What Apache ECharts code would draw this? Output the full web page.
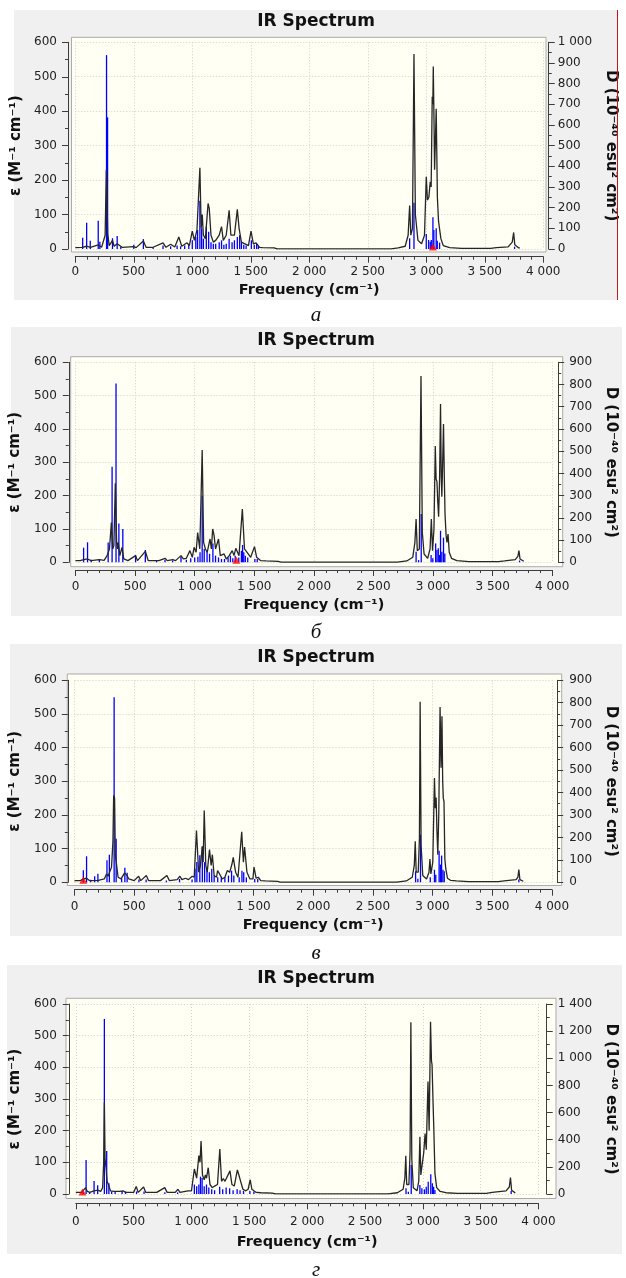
<!DOCTYPE html>
<html>
<head>
<meta charset="utf-8">
<title>IR Spectrum</title>
<script src="https://cdn.jsdelivr.net/npm/echarts/dist/echarts.min.js"></script>
<style>
html, body { margin: 0; padding: 0; background: #fff; }
#chart { width: 626px; height: 1278px; }
</style>
</head>
<body>
<div id="chart"></div>
<script>
// подписи под панелями
var captions = ['а', 'б', 'в', 'г'];
var rightMax = [1000, 900, 900, 1400];
var rightStep = [100, 100, 100, 200];
// выбранная полоса (красный треугольник)
var markers = [3057, 1350, 74, 58];

// огибающая спектра: [частота, ε]
var specA = [[0,4],[60,5],[97,8],[130,5],[196,12],[225,5],[255,40],[265,230],[270,170],[277,45],[290,10],[318,25],[332,8],[358,15],[400,5],[500,7],[520,4],[582,23],[605,5],[665,5],[750,18],[775,5],[815,14],[850,6],[885,35],[910,8],[955,18],[975,10],[1000,52],[1018,25],[1040,55],[1055,60],[1065,236],[1076,60],[1085,100],[1095,40],[1112,30],[1135,132],[1145,118],[1160,40],[1180,20],[1200,25],[1230,40],[1250,65],[1265,25],[1290,40],[1315,112],[1330,40],[1360,40],[1385,115],[1400,60],[1420,20],[1450,15],[1480,10],[1502,52],[1522,15],[1545,18],[1560,18],[1575,5],[1600,4],[1700,3],[1725,0.5],[2700,0.5],[2760,3],[2820,8],[2845,40],[2858,126],[2868,40],[2882,60],[2895,566],[2907,100],[2929,25],[2960,15],[2985,40],[3000,210],[3010,142],[3022,150],[3034,195],[3042,180],[3051,442],[3056,420],[3060,530],[3066,380],[3071,230],[3077,300],[3085,407],[3095,150],[3105,80],[3114,85],[3125,30],[3145,10],[3200,4],[3300,2],[3550,2],[3600,4],[3700,6],[3735,20],[3747,48],[3757,12],[3790,3],[3800,3]];
var specB = [[0,5],[40,5],[68,8],[101,10],[130,5],[200,8],[240,6],[265,20],[285,40],[301,119],[312,40],[322,50],[334,237],[345,60],[352,40],[358,60],[372,20],[390,45],[405,10],[440,5],[504,20],[520,5],[586,33],[610,5],[700,5],[751,12],[770,5],[815,8],[840,5],[885,20],[905,10],[930,12],[945,8],[960,35],[980,15],[995,45],[1012,30],[1025,89],[1043,40],[1063,337],[1075,60],[1090,40],[1105,30],[1129,70],[1140,40],[1151,100],[1163,80],[1175,40],[1200,70],[1215,20],[1247,25],[1265,10],[1290,20],[1315,35],[1330,20],[1345,42],[1372,20],[1400,160],[1418,40],[1440,30],[1470,15],[1502,47],[1520,15],[1534,15],[1555,5],[1600,4],[1700,3],[1725,0.5],[2700,0.5],[2780,4],[2830,15],[2848,60],[2858,130],[2868,35],[2885,40],[2899,559],[2910,90],[2925,25],[2955,12],[2975,40],[2986,130],[2996,35],[3008,100],[3019,349],[3026,250],[3033,242],[3040,180],[3047,137],[3055,250],[3063,475],[3069,260],[3074,197],[3081,300],[3088,415],[3095,250],[3101,142],[3110,80],[3117,60],[3126,85],[3136,30],[3155,12],[3200,5],[3300,2],[3550,2],[3600,4],[3690,8],[3712,18],[3721,35],[3730,10],[3762,3]];
var specC = [[0,5],[50,5],[74,10],[101,12],[125,5],[200,6],[250,10],[268,25],[282,18],[292,28],[310,45],[322,120],[328,258],[336,250],[342,80],[350,60],[365,15],[390,10],[420,28],[440,20],[455,10],[500,5],[537,18],[555,5],[602,20],[620,5],[720,5],[774,20],[795,5],[860,8],[883,18],[900,8],[930,12],[955,8],[986,18],[1003,15],[1022,154],[1040,30],[1055,50],[1071,107],[1078,60],[1087,213],[1100,50],[1112,30],[1131,97],[1145,50],[1155,82],[1170,20],[1190,15],[1199,35],[1215,32],[1238,10],[1260,15],[1281,35],[1300,30],[1318,52],[1330,74],[1350,30],[1370,15],[1401,150],[1415,60],[1425,105],[1445,30],[1470,10],[1495,10],[1504,45],[1522,12],[1540,15],[1560,5],[1600,4],[1700,3],[1725,0.5],[2700,0.5],[2780,4],[2830,15],[2847,50],[2855,122],[2863,30],[2880,30],[2890,130],[2896,536],[2904,110],[2918,20],[2950,10],[2970,30],[2978,69],[2986,25],[3002,60],[3016,310],[3023,220],[3030,252],[3037,150],[3044,82],[3052,200],[3063,521],[3071,340],[3079,493],[3085,300],[3090,250],[3096,240],[3103,70],[3110,43],[3125,12],[3150,6],[3200,4],[3300,2],[3550,2],[3600,4],[3700,8],[3715,15],[3723,38],[3732,8],[3760,3]];
var specD = [[0,5],[50,5],[64,8],[85,20],[100,8],[120,5],[158,10],[189,12],[215,8],[232,20],[241,100],[247,290],[253,110],[262,81],[270,40],[282,30],[300,10],[330,8],[380,8],[410,10],[430,5],[500,5],[522,24],[540,5],[586,22],[605,5],[700,5],[769,20],[790,5],[860,5],[883,15],[900,5],[970,10],[1000,10],[1025,79],[1045,50],[1064,121],[1074,100],[1083,167],[1095,60],[1110,45],[1120,60],[1130,50],[1145,83],[1160,30],[1180,20],[1200,25],[1225,30],[1245,142],[1260,40],[1275,49],[1290,40],[1305,35],[1333,73],[1350,30],[1370,25],[1397,76],[1410,60],[1425,40],[1445,15],[1470,10],[1490,15],[1508,45],[1522,15],[1540,10],[1560,5],[1600,4],[1700,3],[1725,0.5],[2700,0.5],[2780,4],[2830,15],[2845,50],[2853,121],[2861,30],[2880,30],[2890,130],[2897,542],[2905,110],[2918,20],[2950,10],[2965,40],[2975,181],[2983,60],[2995,60],[3008,130],[3020,191],[3030,140],[3045,355],[3055,200],[3067,544],[3075,420],[3080,409],[3088,300],[3095,212],[3105,65],[3120,20],[3150,8],[3200,4],[3300,2],[3550,2],[3600,5],[3720,10],[3748,22],[3758,52],[3768,12],[3800,3]];

// линии (палочки) D: [частота, D]
var sticksA = [[63,55],[97,127],[128,40],[196,137],[210,35],[267,938],[276,637],[318,52],[358,63],[389,12],[500,20],[582,48],[665,8],[750,17],[815,13],[870,17],[900,13],[935,17],[970,25],[1000,42],[1030,58],[1045,92],[1065,233],[1080,100],[1095,50],[1120,108],[1140,83],[1160,33],[1180,25],[1200,25],[1230,33],[1250,42],[1270,20],[1290,25],[1315,50],[1340,33],[1360,42],[1385,58],[1405,67],[1420,33],[1440,20],[1460,17],[1505,42],[1530,20],[1550,25],[1565,17],[2858,52],[2895,224],[3000,73],[3020,44],[3034,35],[3043,44],[3057,153],[3065,92],[3085,100],[3094,40],[3114,31],[3755,11]];
var sticksB = [[68,66],[101,90],[132,11],[200,15],[274,89],[307,430],[340,805],[364,175],[397,150],[504,33],[586,55],[680,8],[751,11],[815,8],[885,25],[930,12],[967,18],[1000,22],[1027,25],[1045,45],[1063,300],[1080,60],[1104,55],[1125,38],[1153,85],[1175,30],[1200,22],[1225,15],[1250,15],[1280,22],[1300,30],[1320,18],[1340,30],[1370,22],[1392,52],[1402,78],[1412,45],[1425,30],[1445,22],[1505,15],[1525,15],[2858,48],[2879,10],[2901,217],[2984,33],[2998,18],[3022,85],[3033,55],[3044,63],[3055,33],[3063,142],[3074,48],[3088,111],[3099,40],[3726,8]];
var sticksC = [[74,54],[101,116],[136,11],[169,27],[196,38],[272,98],[292,123],[332,824],[349,194],[395,17],[422,65],[441,42],[540,12],[600,12],[770,8],[880,15],[985,12],[1010,60],[1025,90],[1050,120],[1071,158],[1090,90],[1110,60],[1130,45],[1150,60],[1170,30],[1200,22],[1230,22],[1260,22],[1290,30],[1316,52],[1335,30],[1380,22],[1403,52],[1418,45],[1440,22],[1510,15],[1535,15],[2858,49],[2877,16],[2899,212],[2981,22],[3016,56],[3027,34],[3055,141],[3066,79],[3076,119],[3087,56],[3098,49],[3723,12]];
var sticksD = [[64,12],[89,250],[120,12],[158,96],[189,65],[247,1290],[267,317],[286,79],[310,19],[340,19],[400,23],[430,19],[525,19],[590,19],[770,12],[880,12],[1025,70],[1045,58],[1064,70],[1078,128],[1092,117],[1110,58],[1130,70],[1150,47],[1175,35],[1200,28],[1244,54],[1270,35],[1300,47],[1330,42],[1360,28],[1395,35],[1420,28],[1450,23],[1505,23],[1540,19],[2855,42],[2875,17],[2900,214],[2975,66],[2992,42],[3014,34],[3030,54],[3047,91],[3069,145],[3083,79],[3094,54],[3105,30],[3764,22]];

var specs = [specA, specB, specC, specD];
var sticks = [sticksA, sticksB, sticksC, sticksD];

// положение панелей на странице (пиксели)
var panels = [
    {box: [14, 10, 617, 300], title: 22, x0: 75.3, x1: 544.5, yTop: 42.3, yBot: 249, axL: 68, axR: 550, axX: 256.7, cream: [71.5, 37.3, 546, 252], cap: 315, lm: 9, ng: 26, lGap: 36, rGap: 43, lLab: 11, rLab: 9},
    {box: [11, 327, 622, 616], title: 341, x0: 74, x1: 559, yTop: 362.3, yBot: 562.3, axL: 67.3, axR: 565, axX: 570, cream: [70.7, 356.7, 562.7, 566.7], cap: 632, lm: 11, ng: 28, lGap: 38, rGap: 36, lLab: 12, rLab: 11},
    {box: [10, 644, 622, 936], title: 658, x0: 71.2, x1: 559, yTop: 680.3, yBot: 882.3, axL: 64.5, axR: 564.3, axX: 889.7, cream: [67.3, 674, 561.7, 885.5], cap: 953, lm: 11, ng: 28, lGap: 37, rGap: 37, lLab: 11, rLab: 12},
    {box: [7, 965, 622, 1254], title: 979, x0: 71, x1: 551.7, yTop: 1004, yBot: 1194, axL: 64, axR: 560, axX: 1203.3, cream: [66, 998.3, 556, 1198.5], cap: 1270, lm: 13, ng: 31, lGap: 40, rGap: 47, lLab: 12, rLab: 11}
];

var FONT = 'DejaVu Sans';
var axisColor = '#3c3c3c';
var gridLine = {show: true, lineStyle: {type: [1, 2], color: '#cfcfcf', width: 1}};

function fmt(v) {
    return String(v).replace(/\B(?=(\d{3})+(?!\d))/g, ' ');
}

var grids = [], xAxes = [], yAxes = [], series = [], graphics = [];

panels.forEach(function (p, i) {
    grids.push({left: p.x0, right: 626 - p.x1, top: p.yTop, bottom: 1278 - p.yBot});

    graphics.push({type: 'rect', z: -20, shape: {x: p.box[0], y: p.box[1], width: p.box[2] - p.box[0], height: p.box[3] - p.box[1]}, style: {fill: '#f0f0f0'}});
    graphics.push({type: 'rect', z: -10, shape: {x: p.cream[0], y: p.cream[1], width: p.cream[2] - p.cream[0], height: p.cream[3] - p.cream[1]}, style: {fill: '#fffff4', stroke: '#ababab', lineWidth: 1}});
    graphics.push({type: 'text', z: 10, x: 316, y: p.title, style: {text: 'IR Spectrum', fontFamily: FONT, fontSize: 17, fontWeight: 'bold', fill: '#111', align: 'center', verticalAlign: 'middle'}});
    graphics.push({type: 'text', z: 10, x: 316, y: p.cap, style: {text: captions[i], fontFamily: 'Liberation Serif', fontStyle: 'italic', fontSize: 21, fill: '#111', align: 'center', verticalAlign: 'middle'}});

    xAxes.push({
        type: 'value', gridIndex: i, min: 0, max: 4000, interval: 500,
        offset: p.axX - p.yBot,
        axisLine: {show: true, onZero: false, lineStyle: {color: axisColor}},
        axisTick: {show: true, length: 6, lineStyle: {color: axisColor}},
        minorTick: {show: true, splitNumber: 5, length: 3, lineStyle: {color: axisColor}},
        splitLine: gridLine,
        axisLabel: {formatter: fmt, margin: p.lm, fontFamily: FONT, fontSize: 12, color: '#222'},
        name: 'Frequency (cm⁻¹)', nameLocation: 'middle', nameGap: p.ng,
        nameTextStyle: {fontFamily: FONT, fontSize: 14.5, fontWeight: 'bold', color: '#111'}
    });

    yAxes.push({
        type: 'value', gridIndex: i, position: 'left', min: 0, max: 600, interval: 100,
        offset: p.x0 - p.axL,
        axisLine: {show: true, onZero: false, lineStyle: {color: axisColor}},
        axisTick: {show: true, length: 6, lineStyle: {color: axisColor}},
        minorTick: {show: true, splitNumber: 2, length: 3, lineStyle: {color: axisColor}},
        splitLine: gridLine,
        axisLabel: {margin: p.lLab, fontFamily: FONT, fontSize: 12, color: '#222'},
        name: 'ε (M⁻¹ cm⁻¹)', nameLocation: 'middle', nameRotate: 90, nameGap: p.lGap,
        nameTextStyle: {fontFamily: FONT, fontSize: 15, fontWeight: 'bold', color: '#111'}
    });
    yAxes.push({
        type: 'value', gridIndex: i, position: 'right', min: 0, max: rightMax[i], interval: rightStep[i],
        offset: p.axR - p.x1,
        axisLine: {show: true, onZero: false, lineStyle: {color: axisColor}},
        axisTick: {show: true, length: 6, lineStyle: {color: axisColor}},
        minorTick: {show: true, splitNumber: 2, length: 3, lineStyle: {color: axisColor}},
        splitLine: {show: false},
        axisLabel: {formatter: fmt, margin: p.rLab, fontFamily: FONT, fontSize: 12, color: '#222'},
        name: 'D (10⁻⁴⁰ esu² cm²)', nameLocation: 'middle', nameRotate: -90, nameGap: p.rGap,
        nameTextStyle: {fontFamily: FONT, fontSize: 15, fontWeight: 'bold', color: '#111'}
    });

    series.push({
        type: 'bar', xAxisIndex: i, yAxisIndex: 2 * i + 1, data: sticks[i],
        barWidth: 1.3, itemStyle: {color: '#0000ff'}, z: 2, silent: true
    });
    series.push({
        type: 'line', xAxisIndex: i, yAxisIndex: 2 * i, data: specs[i],
        symbol: 'none', lineStyle: {color: '#262626', width: 1.3}, z: 3, silent: true
    });
    series.push({
        type: 'scatter', xAxisIndex: i, yAxisIndex: 2 * i, data: [[markers[i], 0]],
        symbol: 'triangle', symbolSize: [8, 7], symbolOffset: [0, -2],
        itemStyle: {color: '#ff0000'}, z: 4, silent: true
    });
});

// тонкая красная линия справа от первой панели
graphics.push({type: 'line', z: 10, shape: {x1: 617.5, y1: 10, x2: 617.5, y2: 300}, style: {stroke: '#c01818', lineWidth: 1}});

var chart = echarts.init(document.getElementById('chart'));
chart.setOption({
    animation: false,
    backgroundColor: '#ffffff',
    grid: grids,
    xAxis: xAxes,
    yAxis: yAxes,
    series: series,
    graphic: graphics
});
</script>
</body>
</html>
